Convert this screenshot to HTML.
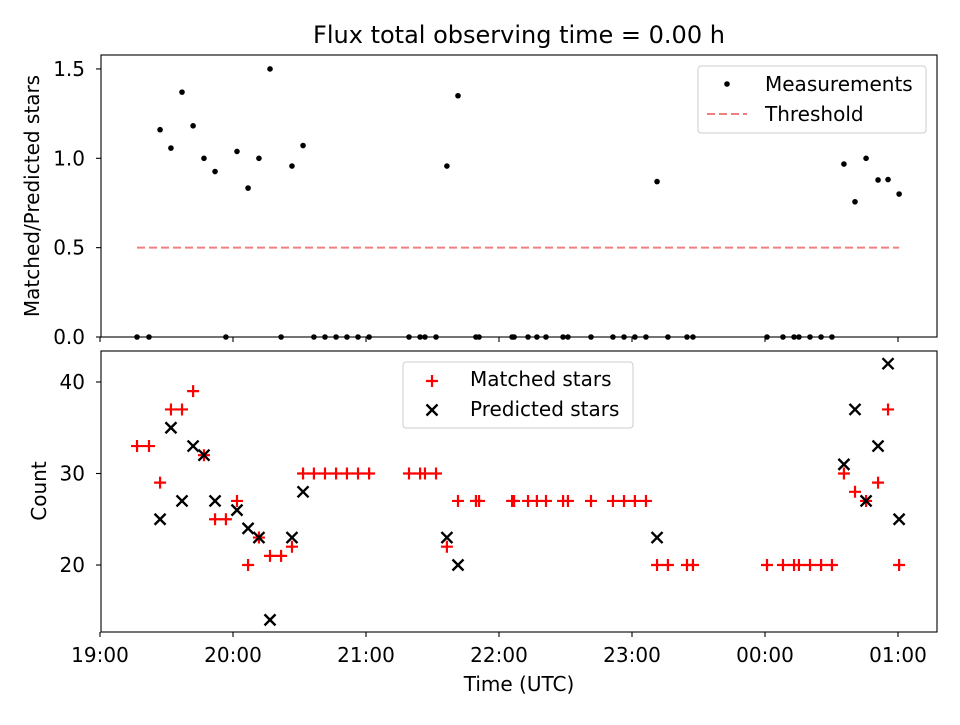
<!DOCTYPE html>
<html><head><meta charset="utf-8"><style>
body{margin:0;background:#fff}
svg text{font-family:"DejaVu Sans","Liberation Sans",sans-serif;fill:#000}
</style></head><body>
<svg id="c" width="960" height="720" xmlns="http://www.w3.org/2000/svg">
<rect width="960" height="720" fill="#fff"/>
<text x="519" y="43" font-size="24" text-anchor="middle">Flux total observing time = 0.00 h</text>
<g id="top"></g>
<g id="bot"></g>
</svg>
<script>
const minutesAfter1900=[16.7,22.1,27.1,32.0,37.0,42.0,46.9,51.9,56.8,61.8,66.8,71.7,76.7,81.7,86.6,91.6,96.5,101.5,106.5,111.4,116.4,121.4,139.4,144.4,146.6,151.6,156.5,161.5,169.6,171.0,185.9,186.8,193.1,197.1,201.2,208.9,211.1,221.5,231.4,236.4,241.3,246.3,251.3,256.2,264.8,267.5,300.9,308.1,313.1,315.3,320.3,325.3,330.2,335.6,340.6,345.6,351.0,355.5,360.5];
const matchedStars=[33,33,29,37,37,39,32,25,25,27,20,23,21,21,22,30,30,30,30,30,30,30,30,30,30,30,22,27,27,27,27,27,27,27,27,27,27,27,27,27,27,27,20,20,20,20,20,20,20,20,20,20,20,30,28,27,29,37,20];
const predictedStars=[null,null,25,35,27,33,32,27,null,26,24,23,14,null,23,28,null,null,null,null,null,null,null,null,null,null,23,20,null,null,null,null,null,null,null,null,null,null,null,null,null,null,23,null,null,null,null,null,null,null,null,null,null,31,37,27,33,42,25];
const threshold=0.5;
const xTickLabels=["19:00","20:00","21:00","22:00","23:00","00:00","01:00"];
const topYTicks=[0.0,0.5,1.0,1.5];
const botYTicks=[20,30,40];

const NS="http://www.w3.org/2000/svg";
const svg=document.getElementById('c');
function mk(tag,attrs,parent){const e=document.createElementNS(NS,tag);for(const k in attrs)e.setAttribute(k,attrs[k]);(parent||svg).appendChild(e);return e;}
const L=101,R=937,FS=20;
const xs=m=>100+m*133/60;
const yTop=v=>337-v*178.7;
const yBot=v=>565-(v-20)*9.15;
const topG=document.getElementById('top'), botG=document.getElementById('bot');

function axes(g,y0,y1,yticks,yf,fmt,showX){
  const f=mk('rect',{x:L,y:y0,width:R-L,height:y1-y0,fill:'none',stroke:'#000','stroke-width':1.1},g);
  
  
  xTickLabels.forEach((lab,i)=>{
    const x=xs(i*60);
    const t=mk('line',{x1:x,x2:x,y1:y1,y2:y1+5,stroke:'#000','stroke-width':1.1},g);
    
    
    if(showX){const tx=mk('text',{x:x,y:y1+30,'font-size':FS,'text-anchor':'middle'},g);tx.textContent=lab;
      
      }
  });
  yticks.forEach(v=>{
    const y=yf(v);
    const t=mk('line',{x1:L-5,x2:L,y1:y,y2:y,stroke:'#000','stroke-width':1.1},g);
    
    
    const tx=mk('text',{x:L-16,y:y+7,'font-size':FS,'text-anchor':'end'},g);tx.textContent=fmt(v);
    
    
  });
}
const thr=mk('line',{x1:xs(minutesAfter1900[0]),x2:xs(minutesAfter1900[minutesAfter1900.length-1]),y1:yTop(threshold),y2:yTop(threshold),stroke:'#f08080','stroke-width':2,'stroke-dasharray':'8,4'},topG);


minutesAfter1900.forEach((m,i)=>{
  const p=predictedStars[i];const r=p?matchedStars[i]/p:0;
  const c=mk('circle',{cx:xs(m),cy:yTop(r),r:2.8,fill:'#000'},topG);
  
  
});
axes(topG,55,337,topYTicks,yTop,v=>v.toFixed(1),false);
let yl=mk('text',{x:0,y:0,'font-size':FS,'text-anchor':'middle',transform:'translate(39,196) rotate(-90)'},topG);yl.textContent='Matched/Predicted stars';


const lg1=mk('g',{},topG);


mk('rect',{x:698,y:66,width:228,height:67,rx:3,fill:'#fff',stroke:'#ccc'},lg1);
mk('circle',{cx:727,cy:84,r:2.8,fill:'#000'},lg1);
let t=mk('text',{x:765,y:91,'font-size':FS},lg1);t.textContent='Measurements';
mk('line',{x1:707,x2:747,y1:114,y2:114,stroke:'#f08080','stroke-width':2,'stroke-dasharray':'8,4'},lg1);
t=mk('text',{x:765,y:121,'font-size':FS},lg1);t.textContent='Threshold';

function plus(x,y,g){return mk('path',{d:`M${x-6} ${y}H${x+6}M${x} ${y-6}V${y+6}`,stroke:'#f00','stroke-width':2.2,fill:'none'},g);}
function cross(x,y,g){return mk('path',{d:`M${x-5.5} ${y-5.5}L${x+5.5} ${y+5.5}M${x-5.5} ${y+5.5}L${x+5.5} ${y-5.5}`,stroke:'#000','stroke-width':2.4,fill:'none'},g);}
minutesAfter1900.forEach((m,i)=>{
  const e=plus(xs(m),yBot(matchedStars[i]),botG);
  
  
});
minutesAfter1900.forEach((m,i)=>{
  if(predictedStars[i]==null)return;
  const e=cross(xs(m),yBot(predictedStars[i]),botG);
  
  
});
axes(botG,351,632,botYTicks,yBot,v=>String(v),true);
yl=mk('text',{x:0,y:0,'font-size':FS,'text-anchor':'middle',transform:'translate(46,491) rotate(-90)'},botG);yl.textContent='Count';


const xl=mk('text',{x:519,y:691,'font-size':FS,'text-anchor':'middle'},botG);xl.textContent='Time (UTC)';


const lg2=mk('g',{},botG);


mk('rect',{x:403,y:362,width:230,height:66,rx:3,fill:'#fff',stroke:'#ccc'},lg2);
plus(432,381,lg2);
t=mk('text',{x:470,y:386,'font-size':FS},lg2);t.textContent='Matched stars';
cross(432,410,lg2);
t=mk('text',{x:470,y:416,'font-size':FS},lg2);t.textContent='Predicted stars';
</script>
</body></html>
